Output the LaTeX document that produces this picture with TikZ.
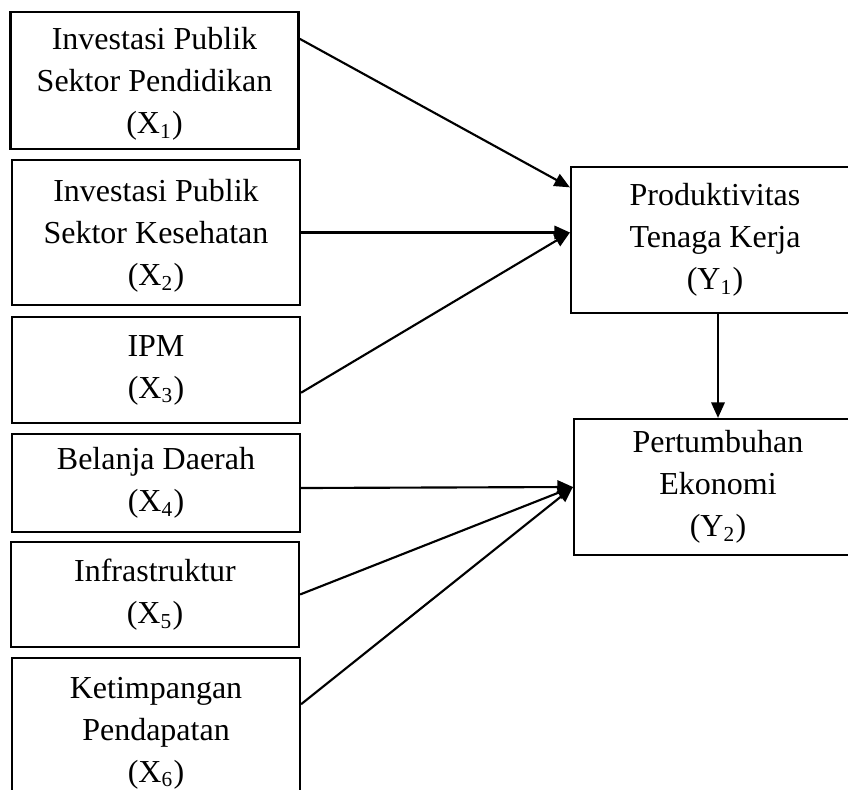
\documentclass[tikz,border=0pt]{standalone}
\usepackage{fontspec}
\setmainfont{Liberation Serif}
\usepackage{tikz}
\usetikzlibrary{positioning,calc,arrows.meta}

\begin{document}
\begin{tikzpicture}[x=0.375pt, y=-0.375pt, ->, >={Triangle[length=5.8pt,width=5pt]}, line width=0.8pt,
    var/.style={draw, ->=none, align=center, minimum width=108pt, inner sep=0pt,
      font=\fontsize{12}{15.75}\selectfont}]
  \path[use as bounding box, clip] (0,0) rectangle (848,790);

  \node[var, minimum height=51.4pt, text depth=-2pt] (X1) at (154.5,80.5) {Investasi Publik\\Sektor Pendidikan\\(X\textsubscript{1})};
  \node[var, minimum height=54.4pt, text depth=-2pt] (X2) at (156,232.5) {Investasi Publik\\Sektor Kesehatan\\(X\textsubscript{2})};
  \node[var, minimum height=39.8pt] (X3) at (156,370) {IPM\\(X\textsubscript{3})};
  \node[var, minimum height=36.8pt] (X4) at (156,483) {Belanja Daerah\\(X\textsubscript{4})};
  \node[var, minimum height=39.4pt] (X5) at (155,594.5) {Infrastruktur\\(X\textsubscript{5})};
  \node[var, minimum height=56pt] (X6) at (156,733) {Ketimpangan\\Pendapatan\\(X\textsubscript{6})};

  \node[var, minimum height=54.8pt] (Y1) at (715,240) {Produktivitas\\Tenaga Kerja\\(Y\textsubscript{1})};
  \node[var, minimum height=51pt] (Y2) at (718,487) {Pertumbuhan\\Ekonomi\\(Y\textsubscript{2})};

  \draw ($(X1.north east)!0.2!(X1.south east)$) -- ($(Y1.north west)!0.145!(Y1.south west)$);
  \draw (X2.east) -- (X2.east -| Y1.west);
  \draw ($(X3.north east)!0.71!(X3.south east)$) -- (X2.east -| Y1.west);
  \draw (Y2.north |- Y1.south) -- (Y2.north);
  \draw ($(X4.north east)!0.55!(X4.south east)$) -- (Y2.west);
  \draw (X5.east) -- (Y2.west);
  \draw ($(X6.north east)!0.31!(X6.south east)$) -- (Y2.west);
\end{tikzpicture}
\end{document}
